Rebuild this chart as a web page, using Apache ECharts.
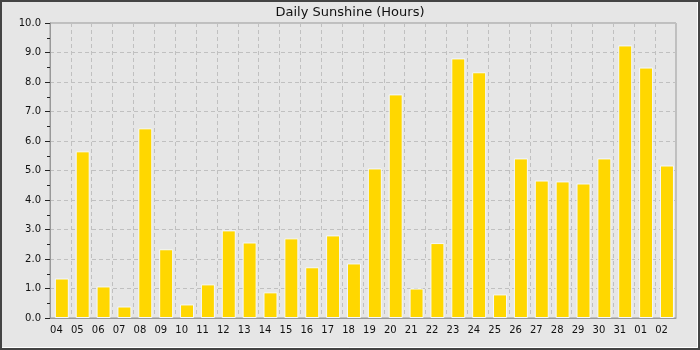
<!DOCTYPE html>
<html>
<head>
<meta charset="utf-8">
<script src="https://cdn.jsdelivr.net/npm/echarts@6/dist/echarts.min.js"></script>
<style>html,body{margin:0;padding:0;background:#e6e6e6;}#c{width:700px;height:350px;}</style>
</head>
<body>
<div id="c"></div>
<script>
const chartTitle = 'Daily Sunshine (Hours)';
const days = ['04','05','06','07','08','09','10','11','12','13','14','15','16','17','18','19','20','21','22','23','24','25','26','27','28','29','30','31','01','02'];
const sunshineHours = [1.34,5.65,1.07,0.39,6.43,2.33,0.46,1.14,2.97,2.56,0.87,2.70,1.72,2.80,1.85,5.07,7.58,1.00,2.54,8.80,8.33,0.80,5.41,4.66,4.63,4.56,5.41,9.24,8.49,5.17];
const yTicks = [0,1,2,3,4,5,6,7,8,9,10];

const font = 'DejaVu Sans';
const chart = echarts.init(document.getElementById('c'), null, {renderer:'canvas'});
const yMin = yTicks[0], yMax = yTicks[yTicks.length-1];
chart.setOption({
  backgroundColor: '#e6e6e6',
  animation: false,
  title: {
    text: chartTitle, left: 'center', top: 1,
    textStyle: {fontFamily: font, fontSize: 13, fontWeight: 'normal', color: '#111'}
  },
  grid: [
    {left: 50, right: 24, top: 23, bottom: 32, show: true, borderColor: '#999', borderWidth: 1, backgroundColor: 'transparent'},
    {left: 51.4, right: 22.6, top: 23, bottom: 32, show: false}
  ],
  xAxis: [{
    type: 'category', data: days, boundaryGap: true, gridIndex: 0,
    axisLine: {lineStyle: {color: '#999', width: 1}},
    axisTick: {show: false},
    axisLabel: {fontFamily: font, fontSize: 10, color: '#111', margin: 7, interval: 0, padding: [0, 8, 0, 0]},
    splitLine: {show: true, interval: 0, lineStyle: {color: '#c0c0c0', type: [4, 3], width: 1}}
  }, {
    type: 'category', data: days, boundaryGap: true, gridIndex: 1, show: false
  }],
  yAxis: [{
    type: 'value', min: yMin, max: yMax, interval: 1, gridIndex: 0,
    axisLine: {show: true, lineStyle: {color: '#999', width: 1}},
    axisTick: {show: true, length: 5, lineStyle: {color: '#222'}},
    minorTick: {show: true, splitNumber: 2, length: 3, lineStyle: {color: '#222'}},
    axisLabel: {fontFamily: font, fontSize: 10, color: '#111', margin: 9, formatter: v => v.toFixed(1)},
    splitLine: {show: true, lineStyle: {color: '#c0c0c0', type: [4, 3], width: 1}}
  }, {
    type: 'value', min: yMin, max: yMax, interval: 1, gridIndex: 1, show: false, splitLine: {show: false}
  }],
  series: [{
    type: 'bar', data: sunshineHours, barWidth: 14, xAxisIndex: 1, yAxisIndex: 1,
    itemStyle: {color: '#FFD700', borderColor: '#f4f8ff', borderWidth: 1}
  }],
  graphic: [
    {type: 'rect', shape: {x: 1, y: 1, width: 698, height: 348}, style: {fill: 'none', stroke: '#444', lineWidth: 2}, z: 100},
    {type: 'polyline', shape: {points: [[697.5, 2], [697.5, 347.5], [2, 347.5]]}, style: {fill: 'none', stroke: '#ffffff', lineWidth: 1}, z: 100}
  ]
});
</script>
</body>
</html>
